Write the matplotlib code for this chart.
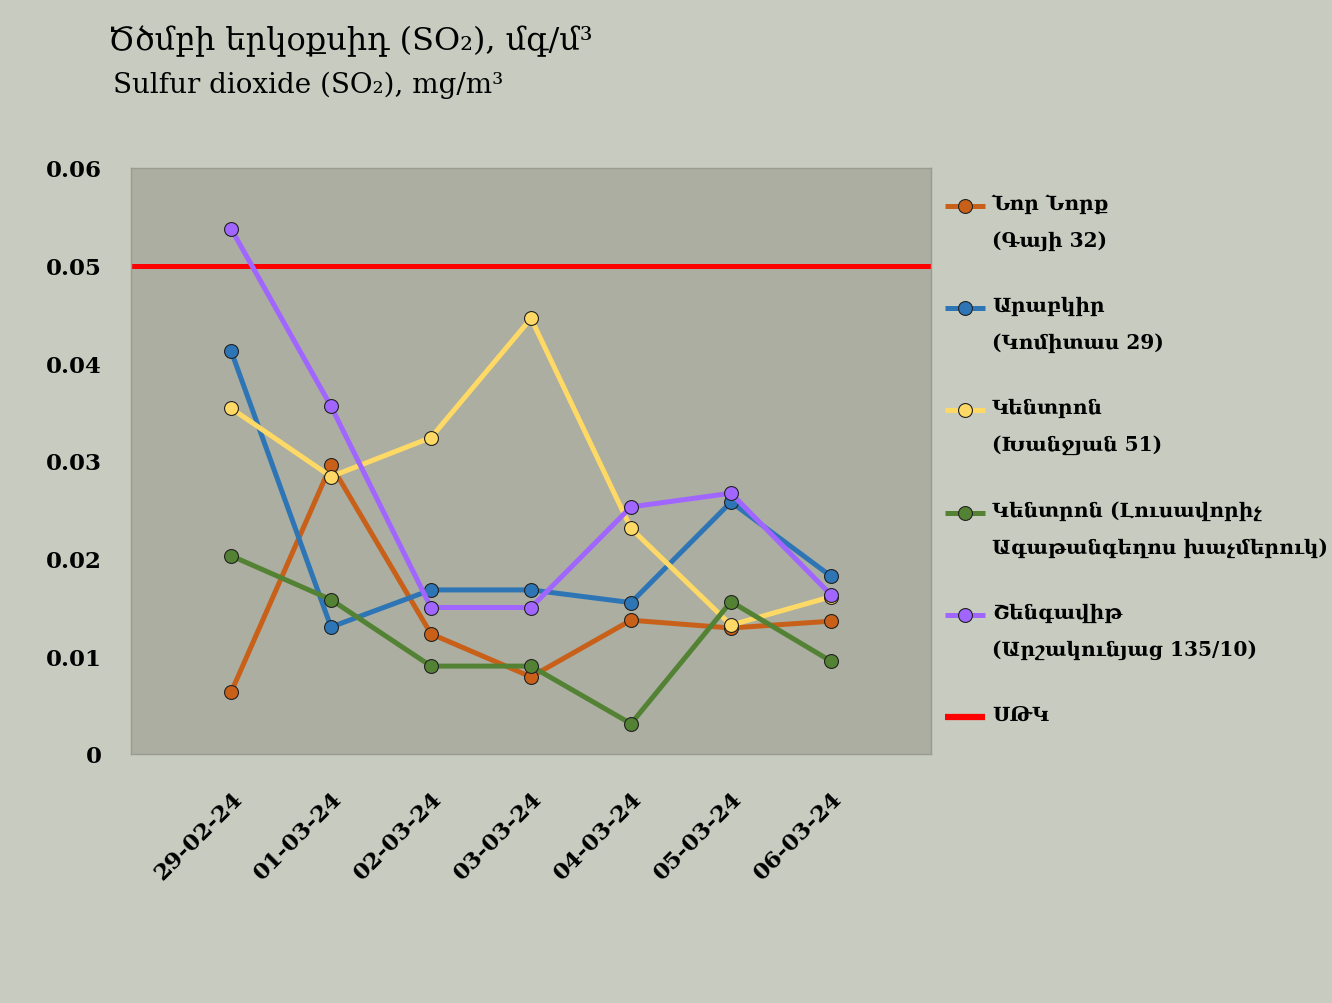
import matplotlib
matplotlib.use("Agg")
import matplotlib.pyplot as plt
from matplotlib.lines import Line2D

dates = ["29-02-24", "01-03-24", "02-03-24", "03-03-24", "04-03-24", "05-03-24", "06-03-24"]
nor_nork = [0.0063, 0.0296, 0.0123, 0.0079, 0.0137, 0.0129, 0.0136]
arabkir = [0.0413, 0.0130, 0.0168, 0.0168, 0.0155, 0.0258, 0.0182]
kentron = [0.0354, 0.0284, 0.0324, 0.0446, 0.0231, 0.0132, 0.0161]
kentron2 = [0.0203, 0.0158, 0.0090, 0.0090, 0.0031, 0.0156, 0.0095]
shengavit = [0.0538, 0.0356, 0.0150, 0.0150, 0.0253, 0.0267, 0.0163]
limit = 0.05

labels = ["Նոր Նորք\n(Գայի 32)", "Արաբկիր\n(Կոմիտաս 29)", "Կենտրոն\n(Խանջյան 51)",
          "Կենտրոն (Լուսավորիչ\nԱգաթանգեղոս խաչմերուկ)", "Շենգավիթ\n(Արշակունյաց 135/10)"]
limit_label = "ՍԹԿ"
series = [nor_nork, arabkir, kentron, kentron2, shengavit]
colors = ["#C8601A", "#2E75B6", "#FFD966", "#548235", "#A066FF"]

FONT = ["DejaVu Serif", "DejaVu Sans"]
plt.rcParams['font.family'] = FONT

W, H = 1332, 1004
fig = plt.figure(figsize=(W/100, H/100), dpi=100, facecolor="#C8CBC0")
ax = fig.add_axes([131/W, 1 - 755/H, 800/W, (755-169)/H])
ax.set_facecolor("#ABAEA0")

x = list(range(len(dates)))
ax.axhline(limit, color="#FF0000", lw=3.6, zorder=2)
for vals, c in zip(series, colors):
    ax.plot(x, vals, color=c, lw=3.6, marker="o", ms=10, mfc=c, mec="#222222", mew=0.8, zorder=3)

ax.set_xlim(-1, 7)
ax.set_ylim(0, 0.06)
ax.set_yticks([0, 0.01, 0.02, 0.03, 0.04, 0.05, 0.06])
ax.set_yticklabels(["0", "0.01", "0.02", "0.03", "0.04", "0.05", "0.06"])
ax.set_xticks(x)
ax.set_xticklabels(dates, rotation=45, ha="right", rotation_mode="anchor")
ax.tick_params(length=0, labelsize=16.5)
ax.tick_params(axis='x', pad=24)
ax.tick_params(axis='y', pad=21)
for lab in ax.get_xticklabels() + ax.get_yticklabels():
    lab.set_fontweight("bold")
for s in ax.spines.values():
    s.set_color("#9A9C92")
    s.set_linewidth(1)

# legend (drawn as figure artists, first line aligned with the key)
step = 102.2
for i, (lab, c) in enumerate(zip(labels + [limit_label], colors + ["#FF0000"])):
    yk = 1 - (207 + i*step)/H
    is_limit = (i == len(labels))
    key = Line2D([945/W, 985/W], [yk, yk], transform=fig.transFigure, color=c, lw=3.6 if not is_limit else 4.5,
                 solid_capstyle="butt")
    fig.add_artist(key)
    if not is_limit:
        mk = Line2D([965/W], [yk], transform=fig.transFigure, marker="o", ms=10, mfc=c, mec="#222222", mew=0.8, ls="none")
        fig.add_artist(mk)
    fig.text(992/W, yk + 13/H, lab, fontsize=14.5, fontweight="bold", va="top", ha="left", linespacing=2.05)

fig.text(108/W, 1 - 41/H, "Ծծմբի երկօքսիդ (SO₂), մգ/մ³", fontsize=23, va="center", ha="left")
fig.text(113/W, 1 - 85/H, "Sulfur dioxide (SO₂), mg/m³", fontsize=20, va="center", ha="left")

fig.savefig("out.png", dpi=100, facecolor=fig.get_facecolor())
